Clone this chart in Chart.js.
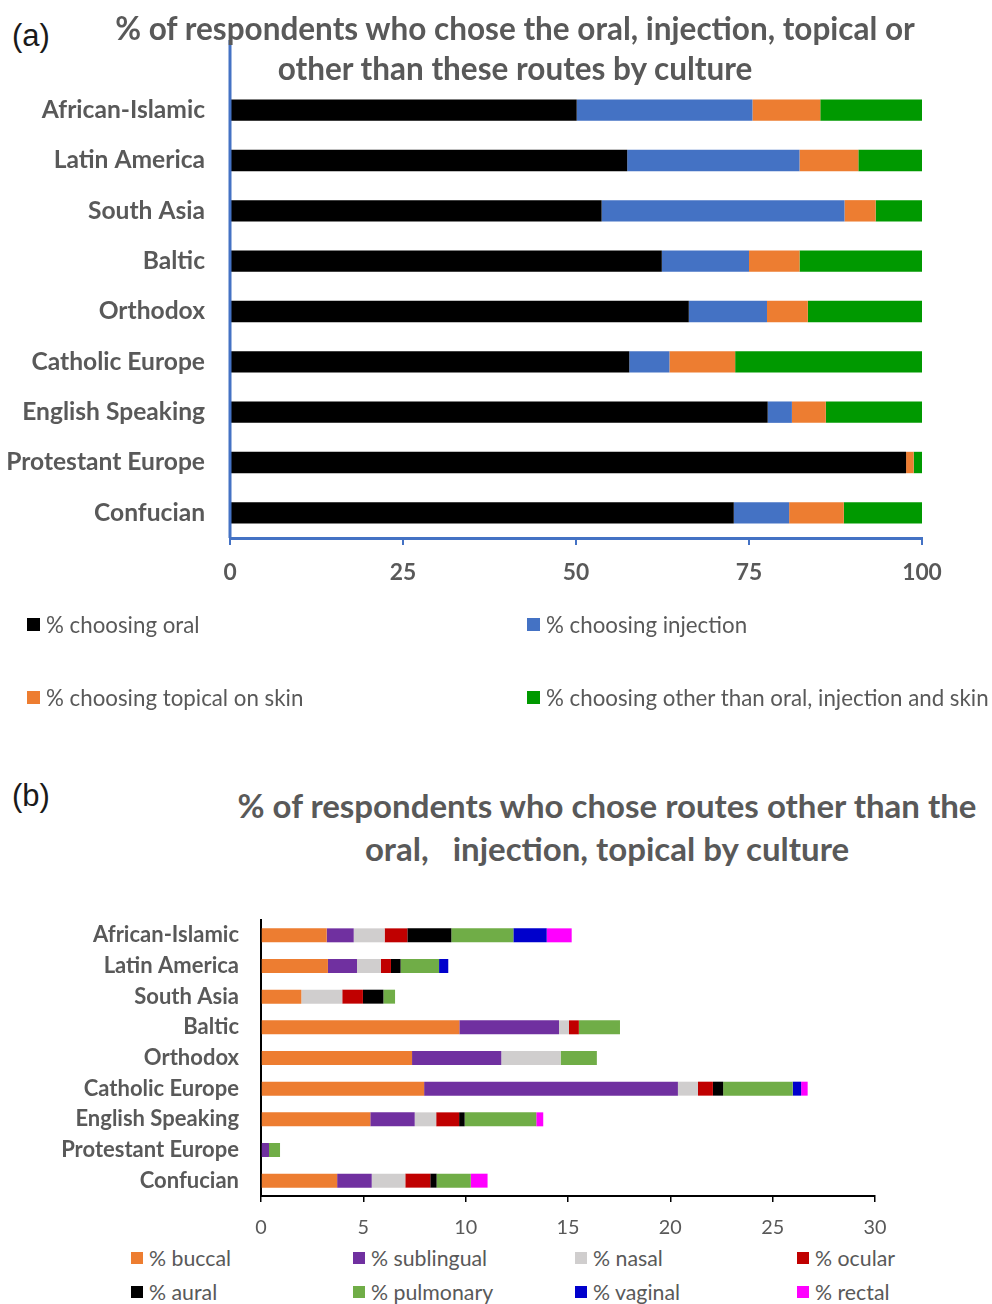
<!DOCTYPE html>
<html>
<head>
<meta charset="utf-8">
<script src="https://cdn.jsdelivr.net/npm/chart.js@4.4.1/dist/chart.umd.min.js"></script>
<style>
    body { margin: 0; background: #fff; }
    #page { position: relative; width: 992px; height: 1304px; overflow: hidden; font-family: Lato, "Open Sans", sans-serif; }
    canvas { position: absolute; left: 0; }
    .panel { position: absolute; left: 12px; font-family: "Liberation Sans", Arial, sans-serif; font-size: 31px; color: #1a1a1a; }
    .title { position: absolute; text-align: center; font-weight: bold; color: #595959; white-space: pre; z-index: 2; }
    .legend { position: absolute; display: grid; color: #595959; }
    .legend .item { display: flex; align-items: center; white-space: nowrap; }
    .legend .box { display: inline-block; margin-right: 6px; }
</style>
</head>
<body>
<div id="page">
    <div class="panel" style="top:18px">(a)</div>
    <div class="title" id="titleA" style="left:15px; top:8px; width:1000px; font-size:31.5px; line-height:40px;"></div>
    <canvas id="chartA" width="992" height="600" style="top:0"></canvas>
    <div class="legend" id="legendA" style="left:27px; top:588px;"></div>

    <div class="panel" style="top:778px">(b)</div>
    <div class="title" id="titleB" style="left:107px; top:784px; width:1000px; font-size:33px; line-height:43px;"></div>
    <canvas id="chartB" width="992" height="360" style="top:880px"></canvas>
    <div class="legend" id="legendB" style="left:131px; top:1241px;"></div>
</div>

<script>
// ---- panel (a) data
const culturesA = ['African-Islamic', 'Latin America', 'South Asia', 'Baltic', 'Orthodox', 'Catholic Europe', 'English Speaking', 'Protestant Europe', 'Confucian'];
const routeNamesA = ['% choosing oral', '% choosing injection', '% choosing topical on skin', '% choosing other than oral, injection and skin'];
const routeColorsA = ['#000000', '#4472C4', '#ED7D31', '#009900'];
const oral      = [50.1, 57.4, 53.7, 62.4, 66.3, 57.7, 77.7, 97.7, 72.8];
const injection = [25.4, 24.9, 35.1, 12.6, 11.3, 5.8, 3.5, 0, 8.0];
const topical   = [9.8, 8.5, 4.5, 7.3, 5.9, 9.5, 4.9, 1.1, 7.9];
const otherA    = [14.7, 9.2, 6.7, 17.7, 16.5, 27.0, 13.9, 1.2, 11.3];
const ticksA = [0, 25, 50, 75, 100];

// ---- panel (b) data
const culturesB = culturesA;
const routeNamesB = ['% buccal', '% sublingual', '% nasal', '% ocular', '% aural', '% pulmonary', '% vaginal', '% rectal'];
const routeColorsB = ['#ED7D31', '#7030A0', '#D0CECE', '#C00000', '#000000', '#70AD47', '#0000CC', '#FF00FF'];
const buccal     = [3.21, 3.27, 1.97, 9.69, 7.38, 7.97, 5.34, 0, 3.72];
const sublingual = [1.32, 1.42, 0, 4.87, 4.36, 12.40, 2.17, 0.39, 1.69];
const nasal      = [1.51, 1.17, 2.00, 0.49, 2.90, 0.98, 1.05, 0, 1.64];
const ocular     = [1.11, 0.49, 1.01, 0.48, 0, 0.73, 1.12, 0, 1.22];
const aural      = [2.15, 0.47, 1.00, 0, 0, 0.50, 0.27, 0, 0.31];
const pulmonary  = [3.03, 1.88, 0.57, 2.01, 1.77, 3.40, 3.50, 0.54, 1.67];
const vaginal    = [1.63, 0.45, 0, 0, 0, 0.41, 0, 0, 0];
const rectal     = [1.22, 0, 0, 0, 0, 0.32, 0.34, 0, 0.82];
const ticksB = [0, 5, 10, 15, 20, 25, 30];

const titleA = '% of respondents who chose the oral, injection, topical or\nother than these routes by culture';
const titleB = '% of respondents who chose routes other than the\noral,   injection, topical by culture';

const AXIS_TOP_A = 40; // the y axis line of (a) runs up into the title

document.getElementById('titleA').textContent = titleA;
document.getElementById('titleB').textContent = titleB;

function buildLegend(id, names, colors, cols, colWidth, rowHeight, fontSize, boxSize){
    const el = document.getElementById(id);
    el.style.gridTemplateColumns = `repeat(${cols}, ${colWidth}px)`;
    el.style.gridAutoRows = rowHeight + 'px';
    el.style.fontSize = fontSize + 'px';
    let html = '';
    names.forEach((name, i) => {
        html += `<div class="item"><span class="box" style="width:${boxSize}px;height:${boxSize}px;background:${colors[i]}"></span>${name}</div>`;
    });
    el.innerHTML = html;
}

buildLegend('legendA', routeNamesA, routeColorsA, 2, 500, 73, 22.3, 13);
buildLegend('legendB', routeNamesB, routeColorsB, 4, 222, 34, 21.3, 12);

const fixedTicks = values => function(scale){ scale.ticks = values.map(v => ({ value: v })); };

const yLinePlugin = {
    id: 'yLine',
    afterDraw(chart){
        const ctx = chart.ctx;
        const area = chart.chartArea;
        ctx.save();
        ctx.strokeStyle = '#4472C4';
        ctx.lineWidth = 3;
        ctx.beginPath();
        ctx.moveTo(area.left, AXIS_TOP_A);
        ctx.lineTo(area.left, area.bottom);
        ctx.stroke();
        ctx.restore();
    }
};

function makeDatasets(seriesList, names, colors, barPct, catPct){
    return seriesList.map((data, i) => ({
        label: names[i],
        data: data,
        backgroundColor: colors[i],
        borderWidth: 0,
        barPercentage: barPct,
        categoryPercentage: catPct
    }));
}

// ---- chart (a)
new Chart(document.getElementById('chartA'), {
    type: 'bar',
    data: {
        labels: culturesA,
        datasets: makeDatasets([oral, injection, topical, otherA], routeNamesA, routeColorsA, 0.85, 0.5)
    },
    plugins: [yLinePlugin],
    options: {
        indexAxis: 'y',
        responsive: false,
        animation: false,
        layout: { padding: { top: 85, right: 70, bottom: 0, left: 0 } },
        plugins: { legend: { display: false }, tooltip: { enabled: false } },
        scales: {
            x: {
                stacked: true,
                min: 0,
                max: 100,
                afterBuildTicks: fixedTicks(ticksA),
                afterFit: s => { s.height = 62; },
                grid: { drawOnChartArea: false, drawTicks: true, tickLength: 7, color: '#4472C4', lineWidth: 2 },
                border: { color: '#4472C4', width: 3 },
                ticks: { color: '#595959', padding: 14, font: { family: 'Lato', size: 22.8, weight: 'bold' } }
            },
            y: {
                stacked: true,
                afterFit: s => { s.width = 230; },
                grid: { display: false, drawTicks: false },
                border: { display: false },
                ticks: { color: '#595959', padding: 25, font: { family: 'Lato', size: 24.6, weight: 'bold' } }
            }
        }
    }
});

// ---- chart (b)
new Chart(document.getElementById('chartB'), {
    type: 'bar',
    data: {
        labels: culturesB,
        datasets: makeDatasets([buccal, sublingual, nasal, ocular, aural, pulmonary, vaginal, rectal], routeNamesB, routeColorsB, 0.91, 0.5)
    },
    options: {
        indexAxis: 'y',
        responsive: false,
        animation: false,
        layout: { padding: { top: 40, right: 117, bottom: 0, left: 0 } },
        plugins: { legend: { display: false }, tooltip: { enabled: false } },
        scales: {
            x: {
                stacked: true,
                min: 0,
                max: 30,
                afterBuildTicks: fixedTicks(ticksB),
                afterFit: s => { s.height = 44; },
                grid: { drawOnChartArea: false, drawTicks: true, tickLength: 6, color: '#000000', lineWidth: 1.5 },
                border: { color: '#000000', width: 2 },
                ticks: { color: '#595959', padding: 14, font: { family: 'Lato', size: 19.8 } }
            },
            y: {
                stacked: true,
                afterFit: s => { s.width = 261; },
                grid: { display: false, drawTicks: false },
                border: { color: '#000000', width: 2 },
                ticks: { color: '#595959', padding: 22, font: { family: 'Lato', size: 22, weight: 'bold' } }
            }
        }
    }
});
</script>
</body>
</html>
